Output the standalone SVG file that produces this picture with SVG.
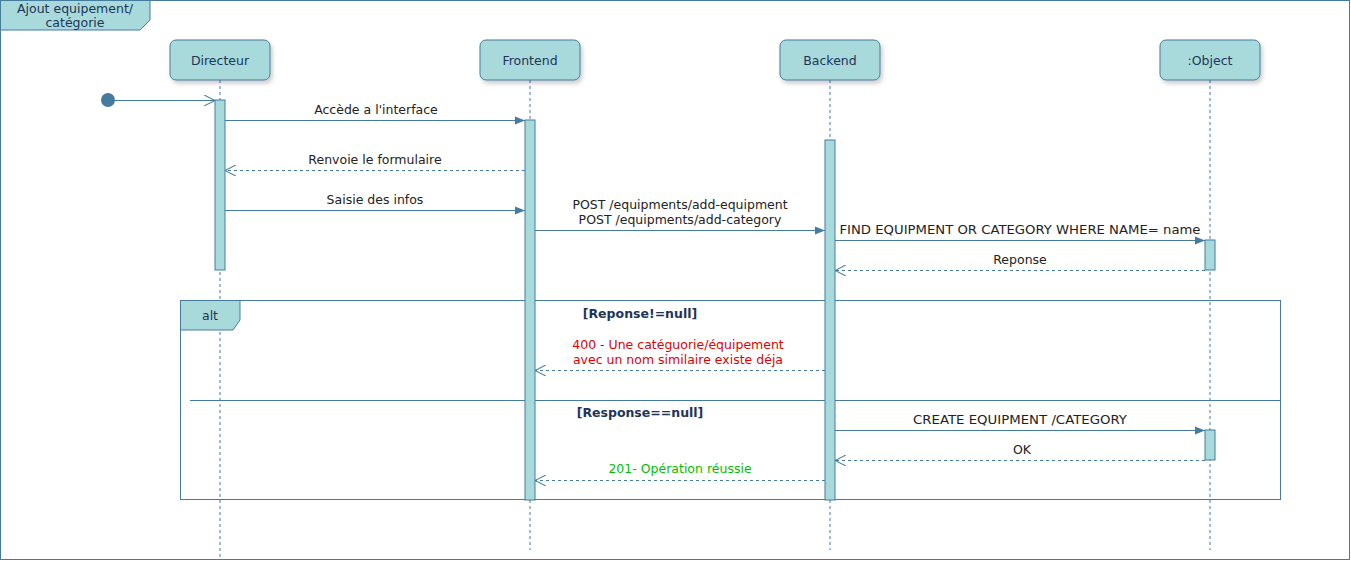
<svg xmlns="http://www.w3.org/2000/svg" width="1351" height="562" viewBox="0 0 1351 562">
<style>
text{font-family:"DejaVu Sans","Liberation Sans",Arial,sans-serif;font-size:12.5px;fill:#222;text-anchor:middle}
.hd{fill:#1D3557}
.guard{font-weight:bold;fill:#1D3557}
.box{fill:#A8DADC;stroke:#457B9D;stroke-width:1}
.life{stroke:#457B9D;stroke-dasharray:3 3;fill:none}
.act{fill:#A8DADC;stroke:#457B9D}
.msg{stroke:#457B9D;fill:none}
.ret{stroke:#457B9D;fill:none;stroke-dasharray:3 3}
.frame{fill:none;stroke:#457B9D}
</style>
<defs>
<marker id="fa" viewBox="0 0 10 10" refX="10" refY="5" markerWidth="10" markerHeight="10" markerUnits="userSpaceOnUse" orient="auto"><path d="M0,1 L10,5 L0,9 Z" fill="#457B9D"/></marker>
<marker id="oa" viewBox="0 0 10 10" refX="10" refY="5" markerWidth="11" markerHeight="11" markerUnits="userSpaceOnUse" orient="auto"><path d="M0,0 L10,5 L0,10" fill="none" stroke="#457B9D"/></marker>
<filter id="sh" x="-20%" y="-20%" width="140%" height="160%"><feDropShadow dx="2" dy="3" stdDeviation="2" flood-color="#000" flood-opacity="0.2"/></filter>
</defs>
<rect x="0.5" y="0.5" width="1349" height="559" fill="#fff" stroke="#457B9D"/>
<g id="title">
<path d="M0.5,0.5 H150 V20 L140,30 H0.5 Z" class="box"/>
<text x="75" y="13" class="hd">Ajout equipement/</text>
<text x="75" y="27" class="hd">catégorie</text>
</g>
<g id="lifelines">
<line x1="220" y1="80" x2="220" y2="557" class="life"/>
<line x1="530" y1="80" x2="530" y2="550" class="life"/>
<line x1="830" y1="80" x2="830" y2="550" class="life"/>
<line x1="1210" y1="80" x2="1210" y2="550" class="life"/>
</g>
<g id="directeur"><rect x="170" y="40" width="100" height="40" rx="6" class="box" filter="url(#sh)"/><text x="220" y="65" class="hd">Directeur</text></g>
<g id="frontend"><rect x="480" y="40" width="100" height="40" rx="6" class="box" filter="url(#sh)"/><text x="530" y="65" class="hd">Frontend</text></g>
<g id="backend"><rect x="780" y="40" width="100" height="40" rx="6" class="box" filter="url(#sh)"/><text x="830" y="65" class="hd">Backend</text></g>
<g id="object"><rect x="1160" y="40" width="100" height="40" rx="6" class="box" filter="url(#sh)"/><text x="1210" y="65" class="hd">:Object</text></g>
<g id="alt">
<rect x="180.5" y="300.5" width="1100" height="199" class="frame"/>
<path d="M180.5,300.5 H240 V320 L233,330 H180.5 Z" class="box"/>
<text x="210" y="320" class="hd">alt</text>
<line x1="190" y1="400.5" x2="1280" y2="400.5" class="frame"/>
<text x="640" y="318" class="guard">[Reponse!=null]</text>
<text x="640" y="417" class="guard">[Response==null]</text>
</g>
<g id="activations">
<rect x="215" y="100" width="10" height="170" class="act"/>
<rect x="525" y="120" width="10" height="380" class="act"/>
<rect x="825" y="140" width="10" height="360" class="act"/>
<rect x="1205" y="240" width="10" height="30" class="act"/>
<rect x="1205" y="430" width="10" height="30" class="act"/>
</g>
<g id="start"><circle cx="108" cy="100" r="7" fill="#457B9D"/></g>
<g id="connectors">
<line x1="115" y1="100.5" x2="215" y2="100.5" class="msg" marker-end="url(#oa)"/>
<line x1="225" y1="120.5" x2="525" y2="120.5" class="msg" marker-end="url(#fa)"/>
<text x="376" y="114">Accède a l'interface</text>
<line x1="525" y1="170.5" x2="225" y2="170.5" class="ret" marker-end="url(#oa)"/>
<text x="375" y="164">Renvoie le formulaire</text>
<line x1="225" y1="210.5" x2="525" y2="210.5" class="msg" marker-end="url(#fa)"/>
<text x="375" y="204">Saisie des infos</text>
<line x1="535" y1="230.5" x2="825" y2="230.5" class="msg" marker-end="url(#fa)"/>
<text x="680" y="209">POST /equipments/add-equipment</text>
<text x="680" y="224">POST /equipments/add-category</text>
<line x1="835" y1="240.5" x2="1205" y2="240.5" class="msg" marker-end="url(#fa)"/>
<text x="1020" y="234" textLength="361" lengthAdjust="spacingAndGlyphs">FIND EQUIPMENT OR CATEGORY WHERE NAME= name</text>
<line x1="1205" y1="270.5" x2="835" y2="270.5" class="ret" marker-end="url(#oa)"/>
<text x="1020" y="264">Reponse</text>
<line x1="825" y1="370.5" x2="535" y2="370.5" class="ret" marker-end="url(#oa)"/>
<text x="678" y="349" style="fill:#E00000">400 - Une catéguorie/équipement</text>
<text x="678" y="364" style="fill:#E00000">avec un nom similaire existe déja</text>
<line x1="835" y1="430.5" x2="1205" y2="430.5" class="msg" marker-end="url(#fa)"/>
<text x="1020" y="424" textLength="214" lengthAdjust="spacingAndGlyphs">CREATE EQUIPMENT /CATEGORY</text>
<line x1="1205" y1="460.5" x2="835" y2="460.5" class="ret" marker-end="url(#oa)"/>
<text x="1022" y="454">OK</text>
<line x1="825" y1="480.5" x2="535" y2="480.5" class="ret" marker-end="url(#oa)"/>
<text x="680" y="473" style="fill:#00C000">201- Opération réussie</text>
</g>
</svg>
